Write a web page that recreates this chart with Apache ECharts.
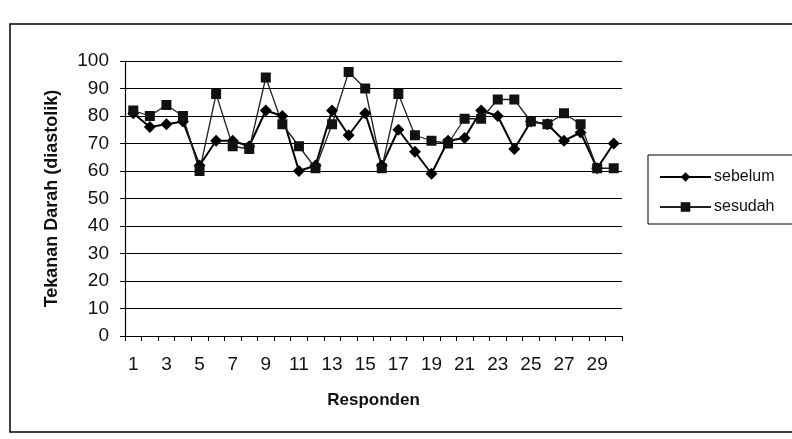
<!DOCTYPE html>
<html>
<head>
<meta charset="utf-8">
<script src="https://cdn.jsdelivr.net/npm/echarts@6/dist/echarts.min.js"></script>
<style>
html, body { margin: 0; padding: 0; background: #fff; }
#chart { width: 792px; height: 439px; }
</style>
</head>
<body>
<div id="chart"></div>
<script>
// data
const responden = [];
for (let i = 1; i <= 30; i++) responden.push(String(i));
const sebelum = [81, 76, 77, 78, 62, 71, 71, 69, 82, 80, 60, 62, 82, 73, 81, 62, 75, 67, 59, 71, 72, 82, 80, 68, 78, 77, 71, 74, 61, 70];
const sesudah = [82, 80, 84, 80, 60, 88, 69, 68, 94, 77, 69, 61, 77, 96, 90, 61, 88, 73, 71, 70, 79, 79, 86, 86, 78, 77, 81, 77, 61, 61];
const yTicks = { min: 0, max: 100, interval: 10 };

const chart = echarts.init(document.getElementById("chart"));
const font = "Liberation Sans, Arial, sans-serif";

const option = {
    backgroundColor: "#ffffff",
    animation: false,
    textStyle: { fontFamily: font },
    grid: { left: 125, top: 61, width: 497, height: 275, containLabel: false },
    graphic: [
        {
            type: "rect",
            shape: { x: 10, y: 24, width: 800, height: 408 },
            style: { fill: "none", stroke: "#000", lineWidth: 1.5 }
        },
        {
            type: "rect",
            shape: { x: 648, y: 155, width: 160, height: 69 },
            style: { fill: "#fff", stroke: "#000", lineWidth: 1 }
        }
    ],
    legend: {
        orient: "vertical",
        left: 654,
        top: 164,
        itemWidth: 51,
        itemHeight: 12,
        itemGap: 14,
        textStyle: { fontSize: 16, color: "#111", padding: [0, 0, 0, -2] },
        data: ["sebelum", "sesudah"]
    },
    xAxis: {
        type: "category",
        data: responden,
        boundaryGap: true,
        name: "Responden",
        nameLocation: "middle",
        nameGap: 56,
        nameTextStyle: { fontSize: 17, fontWeight: "bold", color: "#111" },
        axisLine: { lineStyle: { color: "#000", width: 1.2 } },
        axisTick: { show: true, interval: 0, length: 5, lineStyle: { color: "#000" } },
        axisLabel: { interval: 1, margin: 19, fontSize: 19, color: "#111" },
        splitLine: { show: false }
    },
    yAxis: {
        type: "value",
        min: yTicks.min,
        max: yTicks.max,
        interval: yTicks.interval,
        name: "Tekanan Darah (diastolik)",
        nameLocation: "middle",
        nameGap: 64,
        nameTextStyle: { fontSize: 18, fontWeight: "bold", color: "#111" },
        axisLine: { show: true, lineStyle: { color: "#000", width: 1.2 } },
        axisTick: { show: true, length: 5, lineStyle: { color: "#000" } },
        axisLabel: { margin: 16, fontSize: 19, color: "#111" },
        splitLine: { show: true, lineStyle: { color: "#000", width: 1 } }
    },
    series: [
        {
            name: "sebelum",
            type: "line",
            data: sebelum,
            symbol: "diamond",
            symbolSize: 12,
            showAllSymbol: true,
            itemStyle: { color: "#000" },
            lineStyle: { color: "#000", width: 2 }
        },
        {
            name: "sesudah",
            type: "line",
            data: sesudah,
            symbol: "rect",
            symbolSize: 10,
            showAllSymbol: true,
            itemStyle: { color: "#111" },
            lineStyle: { color: "#222", width: 1.3 }
        }
    ]
};
chart.setOption(option);
</script>
</body>
</html>
